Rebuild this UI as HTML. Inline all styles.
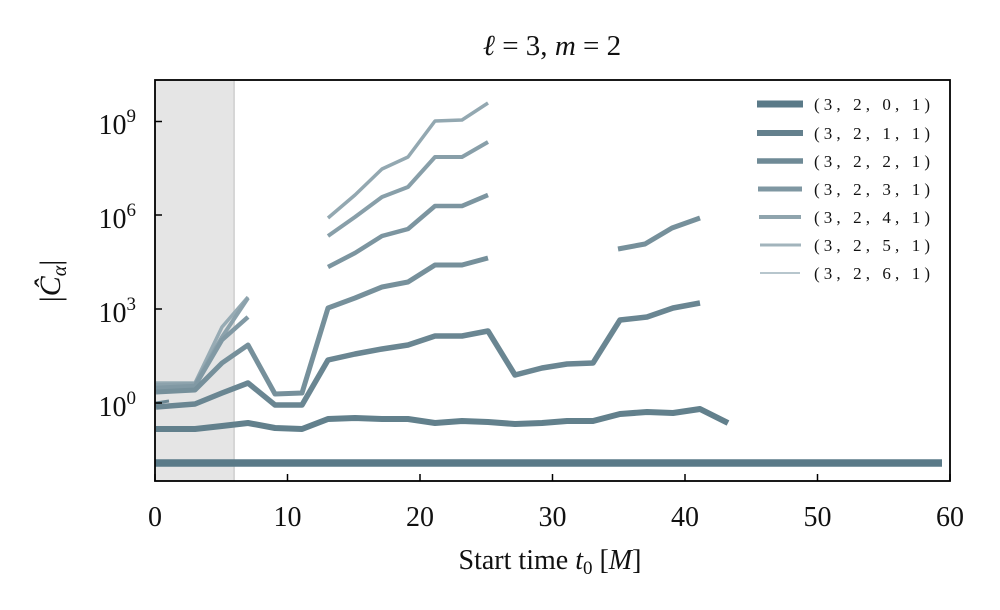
<!DOCTYPE html>
<html><head><meta charset="utf-8"><style>
html,body{margin:0;padding:0;background:#fff;}
svg{display:block;}
text{font-family:"Liberation Serif",serif;fill:#111;}
</style></head><body>
<svg width="1000" height="610" viewBox="0 0 1000 610" xmlns="http://www.w3.org/2000/svg">
<rect x="155" y="80" width="79" height="401" fill="#e5e5e5"/>
<line x1="234" y1="80" x2="234" y2="481" stroke="#d6d6d6" stroke-width="2"/>
<g fill="none" stroke-linejoin="round" stroke-linecap="butt">
<polyline stroke="#97abb4" stroke-width="3.5" points="156,383 195,383 222,327 248,297"/>
<polyline stroke="#93a8b1" stroke-width="3.5" points="328,218 355,195 382,169 408,157 435,121 462,120 488,103"/>
<polyline stroke="#8ca2ac" stroke-width="4" points="156,385 195,384 222,337 248,298"/>
<polyline stroke="#889fa9" stroke-width="4" points="328,236 355,217 382,197 408,187 435,157 462,157 488,142"/>
<polyline stroke="#8199a4" stroke-width="4.5" points="156,388 195,386 222,340 248,317"/>
<polyline stroke="#7c95a0" stroke-width="4.5" points="328,267 355,253 382,236 408,229 435,206 462,206 488,195"/>
<polyline stroke="#76909b" stroke-width="5" points="156,392 195,390 222,363 248,345 275,394 302,393 328,308 355,298 382,287 408,282 435,265 462,265 488,258"/>
<polyline stroke="#76909b" stroke-width="5" points="618,249 645,244 672,228 700,218"/>
<polyline stroke="#6a8692" stroke-width="5.5" points="156,407 195,404 222,393 248,383 275,405 302,405 328,360 355,354 382,349 408,345 435,336 462,336 488,331 515,375 542,368 567,364 593,363 620,320 647,317 673,308 700,303"/>
<polyline stroke="#6a8692" stroke-width="3" points="156,403 169,401"/>
<polyline stroke="#62808c" stroke-width="6" points="156,429 195,429 222,426 248,423 275,428 302,429 328,419 355,418 382,419 408,419 435,423 462,421 488,422 515,424 542,423 567,421 593,421 620,414 647,412 673,413 700,409 728,423"/>
<line x1="155" y1="463" x2="942" y2="463" stroke="#5a7a88" stroke-width="7.5"/>
</g>
<rect x="155" y="80" width="795" height="401" fill="none" stroke="#000" stroke-width="1.8"/>
<g stroke="#000" stroke-width="1.5">
<line x1="155" y1="481" x2="155" y2="474"/><line x1="287.5" y1="481" x2="287.5" y2="474"/><line x1="420" y1="481" x2="420" y2="474"/><line x1="552.5" y1="481" x2="552.5" y2="474"/><line x1="685" y1="481" x2="685" y2="474"/><line x1="817.5" y1="481" x2="817.5" y2="474"/><line x1="950" y1="481" x2="950" y2="474"/>
<line x1="155" y1="121.5" x2="162" y2="121.5"/><line x1="155" y1="215" x2="162" y2="215"/><line x1="155" y1="309" x2="162" y2="309"/><line x1="155" y1="403" x2="162" y2="403"/>
</g>
<g font-size="28" text-anchor="middle">
<text x="155" y="526">0</text><text x="287.5" y="526">10</text><text x="420" y="526">20</text><text x="552.5" y="526">30</text><text x="685" y="526">40</text><text x="817.5" y="526">50</text><text x="950" y="526">60</text>
</g>
<g font-size="28" text-anchor="end">
<text x="136" y="134">10<tspan font-size="19" dy="-12">9</tspan></text>
<text x="136" y="228">10<tspan font-size="19" dy="-12">6</tspan></text>
<text x="136" y="322">10<tspan font-size="19" dy="-12">3</tspan></text>
<text x="136" y="416">10<tspan font-size="19" dy="-12">0</tspan></text>
</g>
<text x="552" y="55" font-size="29" text-anchor="middle"><tspan font-style="italic">ℓ</tspan> = 3, <tspan font-style="italic">m</tspan> = 2</text>
<text x="550" y="569" font-size="28" text-anchor="middle">Start time <tspan font-style="italic">t</tspan><tspan font-size="19" dy="5">0</tspan><tspan dy="-5"> [<tspan font-style="italic">M</tspan>]</tspan></text>
<text transform="translate(60,281) rotate(-90)" font-size="30" text-anchor="middle">|<tspan font-style="italic">Ĉ</tspan><tspan font-size="20" dy="6" font-style="italic">α</tspan><tspan dy="-6">|</tspan></text>
<g stroke-linecap="butt">
<line x1="757" y1="104" x2="803" y2="104" stroke="#5a7a88" stroke-width="7"/>
<line x1="757" y1="133" x2="803" y2="133" stroke="#64808d" stroke-width="6"/>
<line x1="757" y1="161" x2="803" y2="161" stroke="#6f8a96" stroke-width="5.5"/>
<line x1="758" y1="189" x2="802" y2="189" stroke="#7f97a2" stroke-width="5"/>
<line x1="759" y1="217" x2="801" y2="217" stroke="#8fa4ad" stroke-width="4"/>
<line x1="760" y1="245" x2="801" y2="245" stroke="#a2b4bc" stroke-width="3"/>
<line x1="760" y1="273" x2="800" y2="273" stroke="#b7c6cd" stroke-width="2"/>
</g>
<g font-size="17">
<text x="814" y="110" textLength="116" lengthAdjust="spacing">(3, 2, 0, 1)</text>
<text x="814" y="139" textLength="116" lengthAdjust="spacing">(3, 2, 1, 1)</text>
<text x="814" y="167" textLength="116" lengthAdjust="spacing">(3, 2, 2, 1)</text>
<text x="814" y="195" textLength="116" lengthAdjust="spacing">(3, 2, 3, 1)</text>
<text x="814" y="223" textLength="116" lengthAdjust="spacing">(3, 2, 4, 1)</text>
<text x="814" y="251" textLength="116" lengthAdjust="spacing">(3, 2, 5, 1)</text>
<text x="814" y="279" textLength="116" lengthAdjust="spacing">(3, 2, 6, 1)</text>
</g>
</svg>
</body></html>
